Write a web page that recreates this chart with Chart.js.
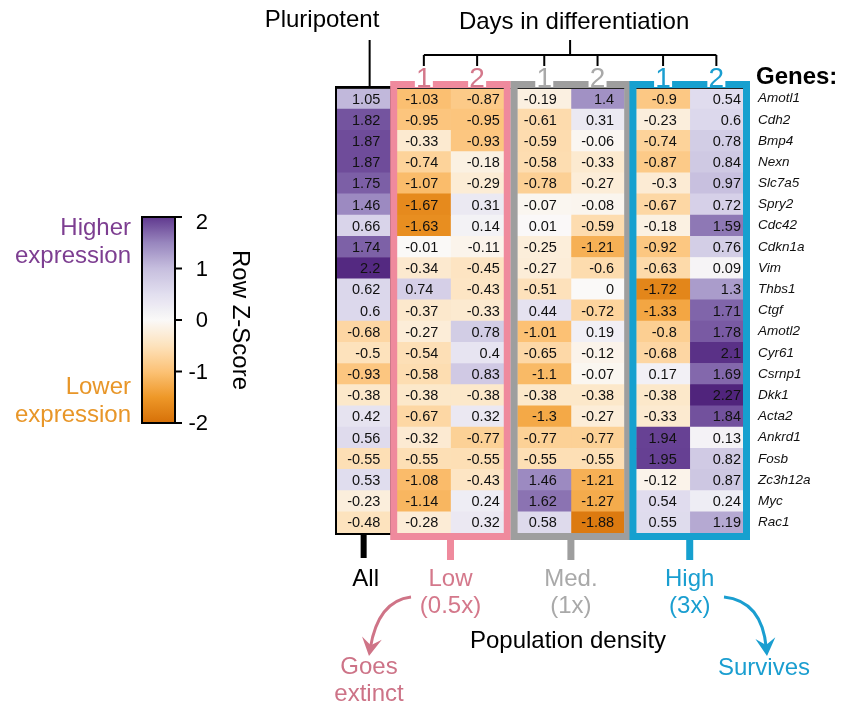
<!DOCTYPE html>
<html>
<head>
<meta charset="utf-8">
<title>Row Z-score heatmap by population density</title>
<script src="https://cdn.jsdelivr.net/npm/chart.js@4.4.1/dist/chart.umd.min.js"></script>
<style>
  html, body { margin: 0; padding: 0; background: #fff; }
  #wrap { width: 842px; height: 711px; }
</style>
</head>
<body>
<div id="wrap"><canvas id="heat" width="842" height="711"></canvas></div>
<script>
// rows (top to bottom)
const genes = ['Amotl1','Cdh2','Bmp4','Nexn','Slc7a5','Spry2','Cdc42','Cdkn1a','Vim','Thbs1','Ctgf',
  'Amotl2','Cyr61','Csrnp1','Dkk1','Acta2','Ankrd1','Fosb','Zc3h12a','Myc','Rac1'];

// row z-scores, one array per column
const pluripotent = [1.05,1.82,1.87,1.87,1.75,1.46,0.66,1.74,2.2,0.62,0.6,-0.68,-0.5,-0.93,-0.38,0.42,0.56,-0.55,0.53,-0.23,-0.48];
const lowDay1  = [-1.03,-0.95,-0.33,-0.74,-1.07,-1.67,-1.63,-0.01,-0.34,0.74,-0.37,-0.27,-0.54,-0.58,-0.38,-0.67,-0.32,-0.55,-1.08,-1.14,-0.28];
const lowDay2  = [-0.87,-0.95,-0.93,-0.18,-0.29,0.31,0.14,-0.11,-0.45,-0.43,-0.33,0.78,0.4,0.83,-0.38,0.32,-0.77,-0.55,-0.43,0.24,0.32];
const medDay1  = [-0.19,-0.61,-0.59,-0.58,-0.78,-0.07,0.01,-0.25,-0.27,-0.51,0.44,-1.01,-0.65,-1.1,-0.38,-1.3,-0.77,-0.55,1.46,1.62,0.58];
const medDay2  = [1.4,0.31,-0.06,-0.33,-0.27,-0.08,-0.59,-1.21,-0.6,0,-0.72,0.19,-0.12,-0.07,-0.38,-0.27,-0.77,-0.55,-1.21,-1.27,-1.88];
const highDay1 = [-0.9,-0.23,-0.74,-0.87,-0.3,-0.67,-0.18,-0.92,-0.63,-1.72,-1.33,-0.8,-0.68,0.17,-0.38,-0.33,1.94,1.95,-0.12,0.54,0.55];
const highDay2 = [0.54,0.6,0.78,0.84,0.97,0.72,1.59,0.76,0.09,1.3,1.71,1.78,2.1,1.69,2.27,1.84,0.13,0.82,0.87,0.24,1.19];

// labels
const dayLabels = ['1', '2'];
const densityNames = ['Low', 'Med.', 'High'];
const densityFactors = ['(0.5x)', '(1x)', '(3x)'];
const colorbarTicks = [2, 1, 0, -1, -2];

const columns = [pluripotent, lowDay1, lowDay2, medDay1, medDay2, highDay1, highDay2];

// layout: column start on the x scale (each cell is 1 unit wide), text placement in the cells
const colStart = [0, 1.13, 2.13, 3.39, 4.39, 5.62, 6.62];
const X_MAX = 7.62;
const cellAlign = ['right','left','right','right','right','right','right'];
const cellInset = [10, 8, 4, 14, 10, 13, 2];
const groupCols = [[1, 2], [3, 4], [5, 6]];
const groupLine = ['#ef8a9d', '#9e9e9e', '#16a0cf'];
const groupText = ['#d4788b', '#a9a9a9', '#1a9ed0'];
const FONT = '"Liberation Sans", Arial, Helvetica, sans-serif';

// diverging orange-white-purple scale
const zStops = [
  [-2,   [214,112,8]],
  [-1.5, [238,152,40]],
  [-1,   [252,194,118]],
  [-0.5, [253,226,188]],
  [0,    [250,249,248]],
  [0.5,  [226,223,239]],
  [1,    [198,190,222]],
  [1.5,  [152,134,190]],
  [2,    [96,56,142]],
  [2.3,  [78,34,122]]
];
function zColor(v) {
  if (v <= zStops[0][0]) return 'rgb(' + zStops[0][1].join(',') + ')';
  for (let i = 1; i < zStops.length; i++) {
    const [v1, c1] = zStops[i];
    if (v <= v1) {
      const [v0, c0] = zStops[i - 1];
      const t = (v - v0) / (v1 - v0);
      return 'rgb(' + c0.map((c, k) => Math.round(c + (c1[k] - c) * t)).join(',') + ')';
    }
  }
  return 'rgb(' + zStops[zStops.length - 1][1].join(',') + ')';
}

function text(ctx, s, x, y, size, color, align, weight) {
  ctx.font = (weight || '') + ' ' + size + 'px ' + FONT;
  ctx.fillStyle = color;
  ctx.textAlign = align || 'center';
  ctx.textBaseline = 'middle';
  ctx.fillText(s, x, y);
}

function curvedArrow(ctx, x0, y0, cx, cy, x1, y1, color) {
  const ang = Math.atan2(y1 - cy, x1 - cx);
  ctx.strokeStyle = color;
  ctx.lineWidth = 3;
  ctx.lineCap = 'butt';
  ctx.beginPath();
  ctx.moveTo(x0, y0);
  ctx.quadraticCurveTo(cx, cy, x1 - Math.cos(ang) * 8, y1 - Math.sin(ang) * 8);
  ctx.stroke();
  ctx.save();
  ctx.translate(x1, y1);
  ctx.rotate(ang);
  ctx.fillStyle = color;
  ctx.beginPath();
  ctx.moveTo(0, 0);
  ctx.lineTo(-18, -10);
  ctx.lineTo(-11, 0);
  ctx.lineTo(-18, 10);
  ctx.closePath();
  ctx.fill();
  ctx.restore();
}

// numbers inside the cells
const cellLabels = {
  id: 'cellLabels',
  afterDatasetsDraw(chart) {
    const ctx = chart.ctx;
    ctx.save();
    chart.data.datasets.forEach((ds, c) => {
      const meta = chart.getDatasetMeta(c);
      meta.data.forEach((bar, r) => {
        const left = Math.min(bar.x, bar.base), right = Math.max(bar.x, bar.base);
        const x = cellAlign[c] === 'left' ? left + cellInset[c] : right - cellInset[c];
        text(ctx, String(ds.zValues[r]), x, bar.y + 1, 14.5, '#111', cellAlign[c]);
      });
    });
    ctx.restore();
  }
};

// frames, headers, colour bar and annotations
const decorations = {
  id: 'decorations',
  afterDraw(chart) {
    const ctx = chart.ctx;
    const xs = chart.scales.x;
    const area = chart.chartArea;
    const top = area.top, bottom = area.bottom;
    const colL = c => xs.getPixelForValue(colStart[c]);
    const colR = c => xs.getPixelForValue(colStart[c] + 1);
    const colC = c => (colL(c) + colR(c)) / 2;
    ctx.save();
    ctx.lineJoin = 'miter';

    // thin line along the top of the cells
    ctx.strokeStyle = '#222';
    ctx.lineWidth = 1;
    ctx.beginPath();
    ctx.moveTo(area.left, top + 0.5);
    ctx.lineTo(area.right, top + 0.5);
    ctx.stroke();

    // pluripotent column frame + stem
    const allL = colL(0), allR = colR(0), allC = colC(0);
    ctx.strokeStyle = '#000';
    ctx.lineWidth = 2;
    ctx.strokeRect(allL - 1, top - 1, allR - allL + 2, bottom - top + 2);
    ctx.fillStyle = '#000';
    ctx.fillRect(allC - 3, bottom + 2, 6, 23);
    text(ctx, 'All', allC + 2, 579, 24, '#000');

    // density group frames, stems, labels
    groupCols.forEach((cols, g) => {
      const l = colL(cols[0]), r = colR(cols[1]);
      ctx.strokeStyle = groupLine[g];
      ctx.lineWidth = 7;
      ctx.strokeRect(l - 3.5, top - 3.5, r - l + 7, bottom - top + 7);
      const cx = (l + r) / 2;
      ctx.fillStyle = groupLine[g];
      ctx.fillRect(cx - 3.5, bottom + 7, 7, 20);
      text(ctx, densityNames[g], cx, 579, 24, groupText[g]);
      text(ctx, densityFactors[g], cx, 606, 24, groupText[g]);
      // day numbers
      cols.forEach((c, k) => {
        const dx = colC(c);
        ctx.fillStyle = '#fff';
        ctx.fillRect(dx - 9, top - 15, 18, 14);
        ctx.font = '28px ' + FONT;
        ctx.fillStyle = groupText[g];
        ctx.textAlign = 'center';
        ctx.textBaseline = 'alphabetic';
        ctx.fillText(dayLabels[k], dx, top - 1);
      });
    });

    // "Days in differentiation" bracket
    const bx0 = colC(1), bx1 = colC(6), bmid = (bx0 + bx1) / 2;
    ctx.strokeStyle = '#000';
    ctx.lineWidth = 2;
    ctx.beginPath();
    ctx.moveTo(bmid, 40); ctx.lineTo(bmid, 55);
    ctx.moveTo(bx0, 55); ctx.lineTo(bx1, 55);
    for (let c = 1; c <= 6; c++) {
      ctx.moveTo(colC(c), 55); ctx.lineTo(colC(c), 66);
    }
    ctx.moveTo(allC + 6, 40); ctx.lineTo(allC + 6, top - 1);
    ctx.stroke();
    text(ctx, 'Days in differentiation', bmid + 4, 22, 24, '#000');
    text(ctx, 'Pluripotent', 322, 20, 24, '#000');
    text(ctx, 'Genes:', 756, 77, 24, '#000', 'left', 'bold');

    // bottom annotations
    text(ctx, 'Population density', 568, 641, 24, '#000');
    curvedArrow(ctx, 411, 597, 378, 601, 369, 656, '#cf7487');
    text(ctx, 'Goes', 369, 667, 24, '#cd7387');
    text(ctx, 'extinct', 369, 694, 24, '#cd7387');
    curvedArrow(ctx, 724, 597, 762, 601, 767, 656, '#1a9ed0');
    text(ctx, 'Survives', 764, 668, 24, '#1a9ed0');

    // colour bar
    const cb = { x: 142, y: 217, w: 33, h: 206 };
    const grad = ctx.createLinearGradient(0, cb.y, 0, cb.y + cb.h);
    for (let i = 0; i <= 40; i++) grad.addColorStop(i / 40, zColor(2 - 4 * i / 40));
    ctx.fillStyle = grad;
    ctx.fillRect(cb.x, cb.y, cb.w, cb.h);
    ctx.strokeStyle = '#000';
    ctx.lineWidth = 2;
    ctx.strokeRect(cb.x, cb.y, cb.w, cb.h);
    const tMax = colorbarTicks[0], tMin = colorbarTicks[colorbarTicks.length - 1];
    colorbarTicks.forEach(t => {
      const y = cb.y + (tMax - t) / (tMax - tMin) * cb.h;
      ctx.beginPath();
      ctx.moveTo(cb.x + cb.w, y); ctx.lineTo(cb.x + cb.w + 7, y);
      ctx.stroke();
      text(ctx, t < 0 ? '-' + Math.abs(t) : String(t), 208, t === tMax ? y + 6 : y + 1, 22, '#000', 'right');
    });
    ctx.save();
    ctx.translate(240, 320);
    ctx.rotate(Math.PI / 2);
    text(ctx, 'Row Z-Score', 0, 0, 24, '#000');
    ctx.restore();
    text(ctx, 'Higher', 131, 228, 24, '#7d3e91', 'right');
    text(ctx, 'expression', 131, 256, 24, '#7d3e91', 'right');
    text(ctx, 'Lower', 131, 387, 24, '#e89628', 'right');
    text(ctx, 'expression', 131, 415, 24, '#e89628', 'right');

    ctx.restore();
  }
};

const datasets = columns.map((vals, c) => ({
  label: 'column ' + c,
  data: vals.map(() => [colStart[c], colStart[c] + 1]),
  zValues: vals,
  backgroundColor: vals.map(zColor),
  borderWidth: 0,
  grouped: false,
  barPercentage: 1,
  categoryPercentage: 1
}));

new Chart(document.getElementById('heat').getContext('2d'), {
  type: 'bar',
  data: { labels: genes, datasets },
  options: {
    indexAxis: 'y',
    responsive: false,
    animation: false,
    layout: { padding: { left: 337, top: 88, right: 0, bottom: 178 } },
    plugins: { legend: { display: false }, tooltip: { enabled: false } },
    scales: {
      x: { type: 'linear', min: 0, max: X_MAX, display: false },
      y: {
        type: 'category',
        position: 'right',
        grid: { display: false },
        border: { display: false },
        ticks: { color: '#111', padding: 7, font: { family: FONT, size: 13.5, style: 'italic' } },
        afterFit: s => { s.width = 99; }
      }
    }
  },
  plugins: [cellLabels, decorations]
});
</script>
</body>
</html>
